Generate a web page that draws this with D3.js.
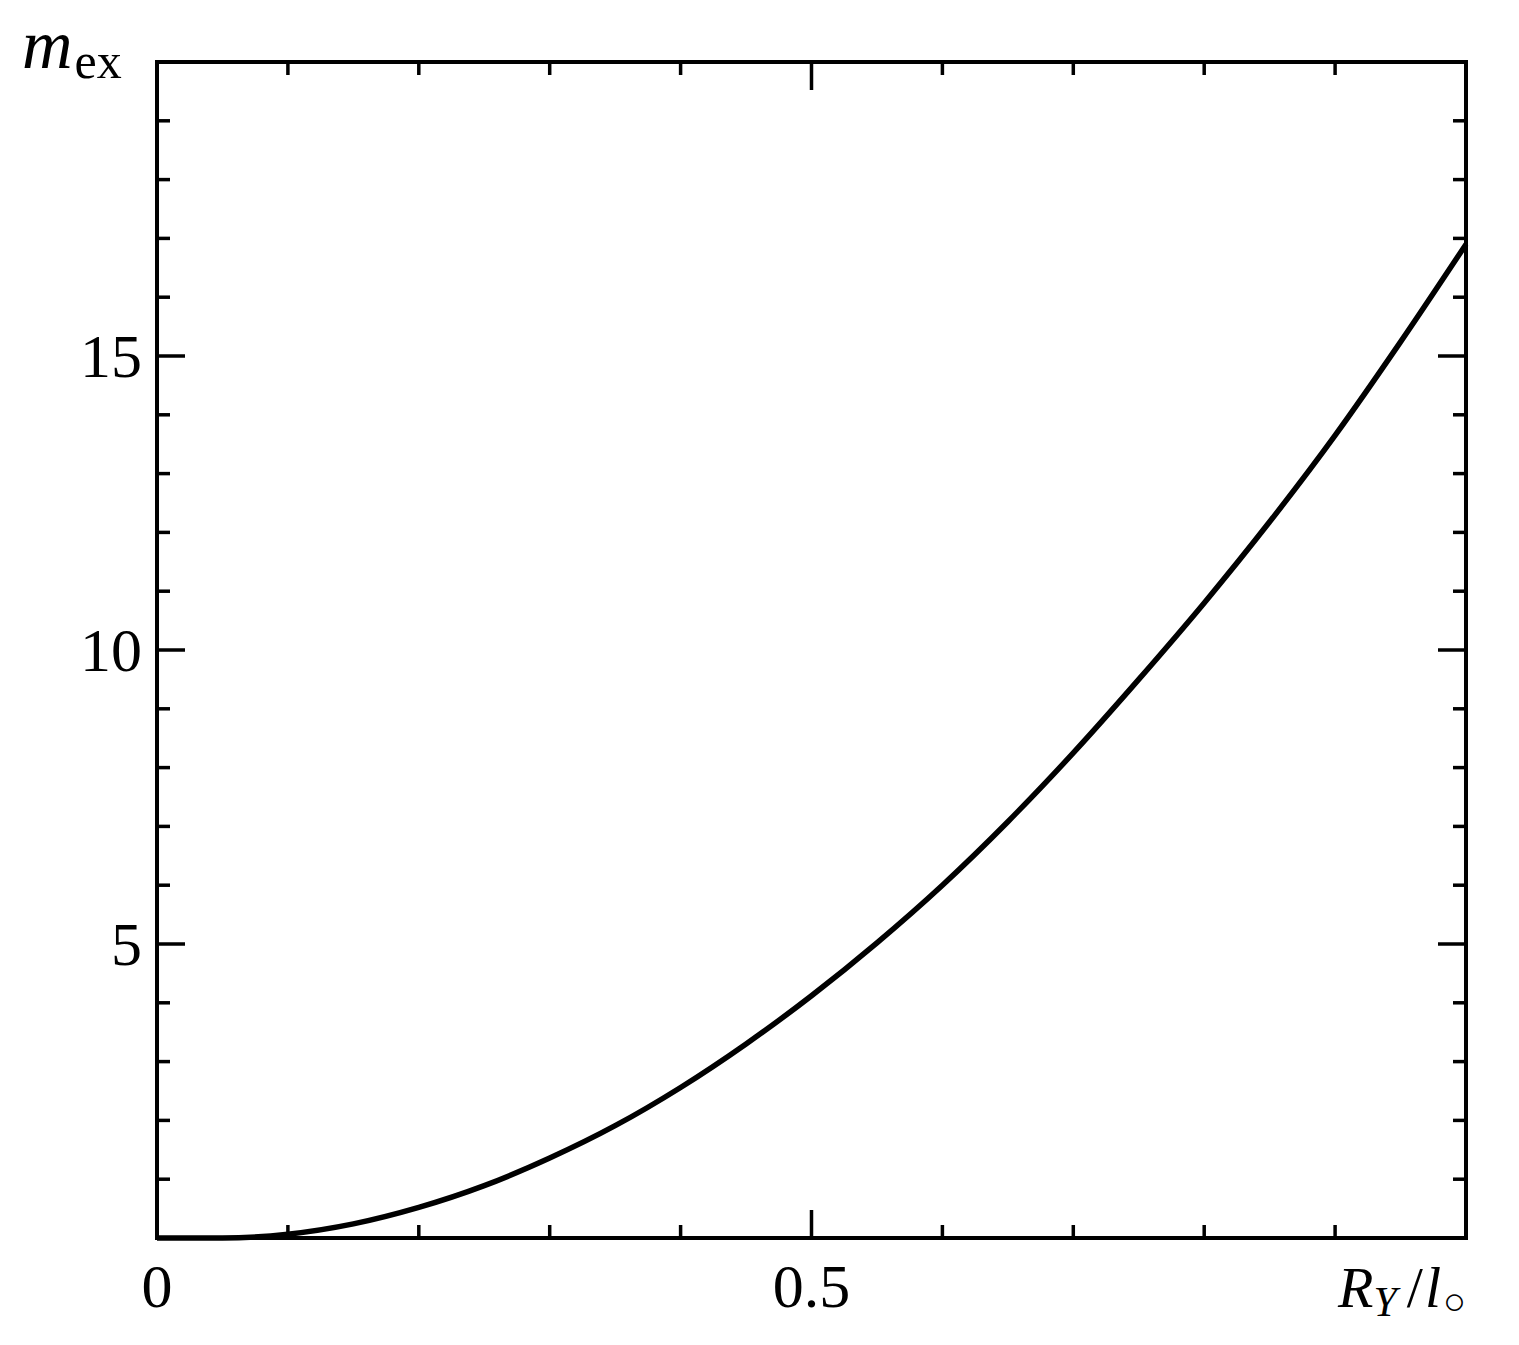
<!DOCTYPE html>
<html><head><meta charset="utf-8">
<script src="https://cdn.jsdelivr.net/npm/d3@7"></script>
<style>body{margin:0;background:#fff}svg{display:block}text{font-family:"Liberation Serif","DejaVu Serif",serif;fill:#000}</style>
</head><body>
<script>
const xValues = [0,0.05,0.1,0.15,0.2,0.25,0.3,0.35,0.4,0.45,0.5,0.55,0.6,0.65,0.7,0.75,0.8,0.85,0.9,0.95,1.0];
const yValues = [0,0.0,0.065,0.24,0.52,0.89,1.36,1.91,2.56,3.30,4.12,5.02,6.0,7.08,8.25,9.5,10.8,12.18,13.65,15.24,16.9];
const xTickLabels = ["0","0.5"];
const xLabelValues = [0,0.5];
const yTickLabels = ["5","10","15"];
const yLabelValues = [5,10,15];

const W=1519,H=1345;
const L=157,R=1466,T=62,B=1238;
const svg=d3.select("body").append("svg").attr("width",W).attr("height",H);
const x=d3.scaleLinear().domain([0,1]).range([L,R]);
const y=d3.scaleLinear().domain([0,20]).range([B,T]);

const xMinor=d3.range(0,11).map(i=>i/10);
const yMinor=d3.range(0,21);

function tickLen(isMajor){return isMajor?28:13;}
const g=svg.append("g").attr("stroke","#000").attr("stroke-width",3.5);
xMinor.forEach(v=>{
  const maj = Math.abs(v-0.5)<1e-9;
  const len=tickLen(maj);
  g.append("line").attr("x1",x(v)).attr("x2",x(v)).attr("y1",B).attr("y2",B-len);
  g.append("line").attr("x1",x(v)).attr("x2",x(v)).attr("y1",T).attr("y2",T+len);
});
yMinor.forEach(v=>{
  const maj = v%5===0;
  const len=tickLen(maj);
  g.append("line").attr("x1",L).attr("x2",L+len).attr("y1",y(v)).attr("y2",y(v));
  g.append("line").attr("x1",R).attr("x2",R-len).attr("y1",y(v)).attr("y2",y(v));
});

// curve
const line=d3.line().x(d=>x(d[0])).y(d=>y(d[1])).curve(d3.curveMonotoneX);
svg.append("path").datum(xValues.map((v,i)=>[v,yValues[i]]))
  .attr("d",line).attr("fill","none").attr("stroke","#000").attr("stroke-width",5.5).attr("stroke-linejoin","round");

// frame
svg.append("rect").attr("x",L).attr("y",T).attr("width",R-L).attr("height",B-T)
  .attr("fill","none").attr("stroke","#000").attr("stroke-width",4);

// tick labels
xLabelValues.forEach((v,i)=>{
  svg.append("text").attr("x",x(v)).attr("y",1307).attr("text-anchor","middle")
    .attr("font-size",62).text(xTickLabels[i]);
});
yLabelValues.forEach((v,i)=>{
  svg.append("text").attr("x",142).attr("y",y(v)+21).attr("text-anchor","end")
    .attr("font-size",62).text(yTickLabels[i]);
});

// y axis title
const yt=svg.append("text").attr("x",22).attr("y",68).attr("font-size",70);
yt.append("tspan").attr("font-style","italic").text("m");
yt.append("tspan").attr("font-size",50).attr("dy",10).attr("dx",2).text("ex");

// x axis title
const xt=svg.append("text").attr("x",1338).attr("y",1307).attr("font-size",58);
xt.append("tspan").attr("font-style","italic").text("R");
xt.append("tspan").attr("font-style","italic").attr("font-size",42).attr("dy",9).text("Y");
xt.append("tspan").attr("dy",-9).attr("dx",10).text("/");
xt.append("tspan").attr("font-style","italic").attr("dx",2).text("l");
xt.append("tspan").attr("font-size",38).attr("dy",7).attr("dx",2).text("○");
</script>
</body></html>
